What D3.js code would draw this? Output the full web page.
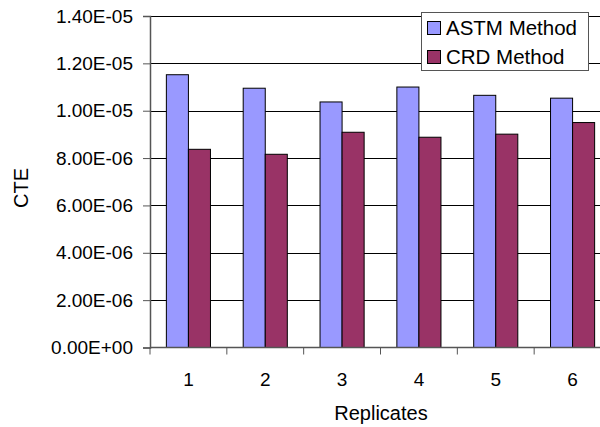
<!DOCTYPE html>
<html><head><meta charset="utf-8">
<script src="https://cdn.jsdelivr.net/npm/d3@7"></script>
<style>body{margin:0;background:#fff}svg{display:block;font-family:"Liberation Sans",Arial,sans-serif}</style>
</head><body>
<svg id="c" width="600" height="427"></svg>
<script>
const categories = ["1","2","3","4","5","6"];
const seriesNames = ["ASTM Method","CRD Method"];
const astm = [1.152e-5,1.095e-5,1.037e-5,1.100e-5,1.065e-5,1.053e-5];
const crd  = [8.37e-6,8.16e-6,9.09e-6,8.88e-6,9.01e-6,9.50e-6];
const yTicks = [0,2e-6,4e-6,6e-6,8e-6,1e-5,1.2e-5,1.4e-5];
const colors = ["#9999FF","#993366"];

const svg = d3.select("#c");
const L = 150, R = 611, T = 16, B = 347.5;
const x = d3.scaleBand().domain(categories).range([L, R]);
const y = d3.scaleLinear().domain([0, 1.4e-5]).range([B, T]);
const fmt = v => v.toExponential(2).toUpperCase().replace(/E([+-])(\d)$/, "E$10$2");

// gridlines
svg.append("g").selectAll("line").data(yTicks.slice(1)).join("line")
  .attr("x1", L).attr("x2", R).attr("y1", d => Math.round(y(d))+0.5).attr("y2", d => Math.round(y(d))+0.5)
  .attr("stroke", "#000").attr("stroke-width", 1);

// bars
const inner = x.bandwidth()*0.287;
const data = categories.map((c,i) => ({c, vals:[astm[i], crd[i]]}));
const g = svg.append("g");
data.forEach(d => {
  d.vals.forEach((v,k) => {
    const x0 = x(d.c) + (x.bandwidth() - 2*inner)/2 + k*inner;
    g.append("rect").attr("x", x0).attr("y", y(v)).attr("width", inner).attr("height", B - y(v))
      .attr("fill", colors[k]).attr("stroke", "#000").attr("stroke-width", 1);
  });
});

// y axis
const ya = svg.append("g").attr("transform", `translate(${L},0)`)
  .call(d3.axisLeft(y).tickValues(yTicks).tickFormat(fmt).tickSize(7).tickPadding(10));
ya.select(".domain").attr("stroke", "#555").attr("stroke-width", 1.5);
ya.selectAll(".tick line").attr("stroke", "#555");
ya.selectAll("text").attr("font-size", 19).attr("fill", "#000").attr("font-family", "Liberation Sans, Arial");

// x axis
const xa = svg.append("g").attr("transform", `translate(0,${B})`);
xa.append("line").attr("x1", L).attr("x2", R).attr("stroke", "#555").attr("stroke-width", 1.5);
const xt = d3.range(categories.length+1).map(i => L + i*x.step());
xa.selectAll("line.t").data(xt).join("line").attr("class","t")
  .attr("x1", d => d).attr("x2", d => d).attr("y1", 0).attr("y2", 7).attr("stroke", "#555");
xa.selectAll("text").data(categories).join("text")
  .attr("x", d => x(d) + x.bandwidth()/2).attr("y", 38).attr("text-anchor","middle")
  .attr("font-size", 19).text(d => d);

// axis titles
svg.append("text").attr("x", 381).attr("y", 420).attr("text-anchor","middle").attr("font-size",20).text("Replicates");
svg.append("text").attr("transform","translate(28,188) rotate(-90)").attr("text-anchor","middle").attr("font-size",20).text("CTE");

// legend
const lg = svg.append("g");
lg.append("rect").attr("x", 421.5).attr("y", 12.5).attr("width", 167).attr("height", 58).attr("fill","#fff").attr("stroke","#555");
seriesNames.forEach((n,i) => {
  lg.append("rect").attr("x", 427.5).attr("y", 21.5 + i*29).attr("width", 13).attr("height", 13)
    .attr("fill", colors[i]).attr("stroke","#000");
  lg.append("text").attr("x", 446).attr("y", 34.5 + i*29).attr("font-size", 20.5).text(n);
});
</script>
</body></html>
